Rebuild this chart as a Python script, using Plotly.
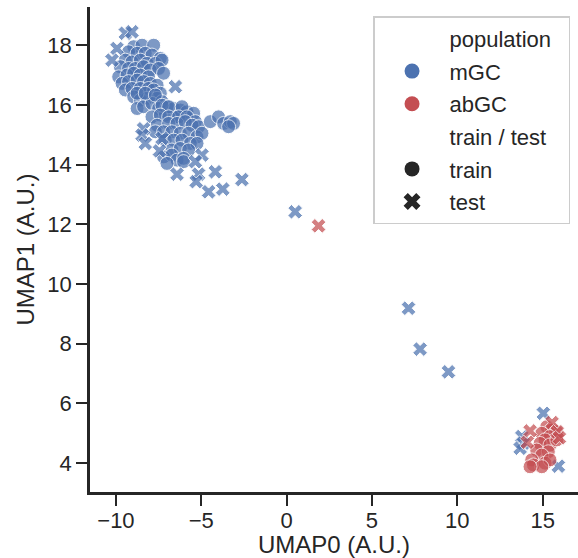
import plotly.graph_objects as go

# ---- data (UMAP coordinates, A.U.) ----
mgc_train_x = [-8.96, -8.47, -7.79, -9.26, -8.76, -8.28, -7.89, -7.40, -9.45, -9.06,
               -8.57, -8.18, -7.69, -7.30, -9.74, -9.26, -8.86, -8.38, -7.99, -7.50,
               -9.84, -9.35, -8.96, -8.57, -8.09, -7.21, -9.64, -9.26, -8.76, -8.38,
               -7.99, -7.59, -9.45, -9.06, -8.57, -8.09, -7.79, -7.40, -8.96, -8.57,
               -8.18, -7.59, -8.76, -8.38, -7.89, -7.30, -7.50, -7.01, -6.62, -6.23,
               -5.84, -5.45, -7.11, -6.42,
               -8.76, -8.28, -7.69, -7.30, -6.91, -6.13,
               -7.89, -7.40, -6.91, -6.33, -5.84, -5.35, -7.59, -6.91, -6.42, -5.94,
               -5.54, -5.16, -7.69, -7.21, -6.72, -6.23, -5.74, -5.25, -4.96, -7.11,
               -6.62, -6.13, -5.64, -5.25, -6.72, -6.23, -5.74, -7.21, -6.72, -6.42,
               -6.04, -7.01, -6.04,
               -4.47, -3.99, -3.69, -3.30, -3.11, -3.40]
mgc_train_y = [17.95, 18.00, 18.00, 17.78, 17.73, 17.73, 17.67, 17.56, 17.50, 17.44,
               17.50, 17.39, 17.39, 17.50, 17.28, 17.22, 17.22, 17.28, 17.17, 17.22,
               16.94, 17.00, 17.06, 17.00, 16.94, 17.06, 16.72, 16.78, 16.83, 16.78,
               16.72, 16.66, 16.50, 16.55, 16.55, 16.55, 16.50, 16.39, 16.27, 16.16,
               16.22, 16.22, 15.88, 15.94, 16.05, 16.11, 15.88, 15.94, 15.88, 15.83,
               15.77, 15.72, 15.66, 15.60,
               16.39, 16.39, 16.33, 15.99, 15.94, 15.94,
               15.60, 15.66, 15.60, 15.60, 15.60, 15.44, 15.32, 15.38, 15.38, 15.44,
               15.32, 15.27, 15.10, 15.10, 15.10, 15.05, 15.05, 14.93, 15.05, 14.82,
               14.82, 14.82, 14.71, 14.71, 14.49, 14.54, 14.49, 14.26, 14.32, 14.15,
               14.21, 14.04, 14.10,
               15.44, 15.60, 15.38, 15.44, 15.38, 15.27]

mgc_test_x = [-9.45, -9.06, -9.94, -10.23, -6.52, -8.38, -8.47, -8.28, -7.45, -7.30,
              -4.96, -5.35, -6.42, -5.16, -4.18, -5.30, -4.57, -3.74, -2.62, 0.50,
              7.14, 7.82, 9.48, 15.04, 13.78, 13.87, 13.68, 15.92]
mgc_test_y = [18.40, 18.45, 17.89, 17.50, 16.61, 15.20, 14.99, 14.71, 14.46, 14.88,
              14.32, 14.10, 13.68, 13.68, 13.76, 13.43, 13.09, 13.18, 13.50, 12.42,
              9.19, 7.82, 7.06, 5.67, 4.89, 4.67, 4.50, 3.90]

abgc_train_x = [15.24, 15.53, 15.83, 14.95, 15.43, 15.14, 14.85, 15.43, 15.83, 14.65,
                15.33, 14.95, 14.36, 14.46, 15.14, 15.43, 14.95, 14.26]
abgc_train_y = [5.22, 5.11, 5.05, 5.00, 4.89, 4.78, 4.66, 4.61, 4.78, 4.44,
                4.38, 4.27, 4.11, 3.94, 4.00, 4.11, 3.88, 3.88]

abgc_test_x = [1.87, 14.26, 15.55, 14.10, 15.85, 15.98]
abgc_test_y = [11.95, 5.08, 5.36, 4.70, 5.05, 4.85]

x_ticks = [-10, -5, 0, 5, 10, 15]
x_tick_text = ["\u221210", "\u22125", "0", "5", "10", "15"]
y_ticks = [4, 6, 8, 10, 12, 14, 16, 18]

BLUE = "#4C72B0"
RED = "#C44E52"
DARK = "#262626"
FONT = "Liberation Sans, Arial, sans-serif"

fig = go.Figure()

def pts(x, y, color, symbol, size):
    return go.Scatter(
        x=x, y=y, mode="markers", showlegend=False, hoverinfo="skip",
        marker=dict(color=color, symbol=symbol, size=size, opacity=0.72,
                    line=dict(color="white", width=1)),
    )

fig.add_trace(pts(mgc_train_x, mgc_train_y, BLUE, "circle", 14))
fig.add_trace(pts(mgc_test_x, mgc_test_y, BLUE, "x", 13))
fig.add_trace(pts(abgc_train_x, abgc_train_y, RED, "circle", 14))
fig.add_trace(pts(abgc_test_x, abgc_test_y, RED, "x", 13))

# legend entries (seaborn-style with sub-headers)
legend_items = [
    ("population\u00a0\u00a0", "rgba(0,0,0,0)", "circle"),
    ("mGC", BLUE, "circle"),
    ("abGC", RED, "circle"),
    ("train / test", "rgba(0,0,0,0)", "circle"),
    ("train", DARK, "circle"),
    ("test", DARK, "x"),
]
for i, (name, col, sym) in enumerate(legend_items):
    fig.add_trace(go.Scatter(
        x=[None], y=[None], mode="markers", name=name, legendgroup=f"g{i}",
        marker=dict(color=col, symbol=sym, size=15, line=dict(width=0)),
    ))

axis_common = dict(
    showline=True, linewidth=2.5, linecolor=DARK, mirror=False,
    showgrid=False, zeroline=False,
    ticks="outside", ticklen=11, tickwidth=2.3, tickcolor=DARK,
    tickfont=dict(family=FONT, size=22, color=DARK),
)

fig.update_layout(
    width=578, height=558,
    margin=dict(l=90, r=0, t=7, b=66),
    paper_bgcolor="white", plot_bgcolor="white",
    font=dict(family=FONT, color=DARK),
    xaxis=dict(range=[-11.52, 17.07], tickvals=x_ticks, ticktext=x_tick_text,
               ticklabelstandoff=-4,
               title=dict(text="UMAP0 (A.U.)", font=dict(family=FONT, size=24, color=DARK), standoff=6),
               **axis_common),
    yaxis=dict(range=[3.034, 19.28], tickvals=y_ticks,
               title=dict(text="UMAP1 (A.U.)", font=dict(family=FONT, size=24, color=DARK), standoff=6),
               **axis_common),
    legend=dict(
        x=0.58, y=0.981, xanchor="left", yanchor="top",
        bgcolor="white", bordercolor="#cccccc", borderwidth=1.5,
        font=dict(family=FONT, size=22, color=DARK),
        traceorder="grouped", tracegroupgap=1, itemwidth=65,
    ),
)

fig.write_html("out.html")
